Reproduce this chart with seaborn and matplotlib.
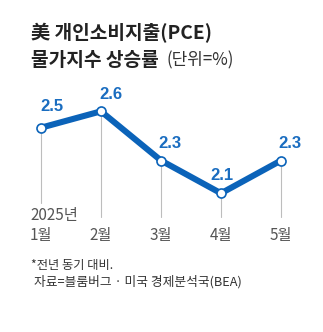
import matplotlib
matplotlib.use("Agg")
import matplotlib.pyplot as plt
import seaborn as sns
import pandas as pd

# PCE price index, year-over-year change (%)
months = ["1월", "2월", "3월", "4월", "5월"]
values = [2.5, 2.6, 2.3, 2.1, 2.3]
year_label = "2025년"

title_line1 = "美 개인소비지출(PCE)"
title_line2 = "물가지수 상승률"
unit_label = "(단위=%)"
note_line1 = "*전년 동기 대비."
note_line2 = "자료=블룸버그 · 미국 경제분석국(BEA)"

BLUE = "#0b63b9"
LABEL_BLUE = "#1a6dc0"

sns.set_style("white")
plt.rcParams["font.family"] = ["Liberation Sans", "Noto Sans CJK KR", "DejaVu Sans"]

df = pd.DataFrame({"x": range(len(months)), "month": months, "value": values})

fig = plt.figure(figsize=(3.23, 3.32), dpi=100)
ax = fig.add_axes([0, 0, 1, 1])
ax.set_xlim(-0.6833, 4.7)
ax.set_ylim(1.2543, 3.2787)
ax.axis("off")

# thin drop lines from each point to the baseline
base = 1.9555
for i, v in enumerate(values):
    bottom = 2.041 if i == 0 else base
    ax.plot([i, i], [bottom, v], color="#bdbdbd", lw=0.8, zorder=1)

sns.lineplot(data=df, x="x", y="value", ax=ax, color=BLUE, lw=4.4,
             marker="o", markersize=6.5, markerfacecolor="white",
             markeredgecolor=BLUE, markeredgewidth=1.2, zorder=3)

# value labels
offsets = [(8, 15), (7, 12), (6.5, 12.5), (0.5, 12.5), (6.5, 12.5)]
for i, v in enumerate(values):
    dx, dy = offsets[i]
    ax.annotate(f"{v:.1f}", (i, v), xytext=(dx, dy), textcoords="offset points",
                ha="center", va="center", fontsize=12, fontweight="bold",
                color=LABEL_BLUE, zorder=4)

# month labels
label_font = ["Liberation Sans Narrow", "Noto Sans CJK KR"]
for i, m in enumerate(months):
    ax.annotate(m, (i, base), xytext=(0, -13), textcoords="offset points",
                ha="center", va="center", fontsize=11, color="#555555",
                family=label_font)
ax.annotate(year_label, (0, base), xytext=(-7.5, 1), textcoords="offset points",
            ha="left", va="center", fontsize=11, color="#555555",
            family=label_font)

# title
kr_font = ["Noto Sans CJK KR", "DejaVu Sans"]
fig.text(31 / 323, 1 - 33 / 332, title_line1, ha="left", va="center",
         fontsize=13.8, fontweight="bold", color="#222222", family=kr_font)
fig.text(31 / 323, 1 - 60 / 332, title_line2, ha="left", va="center",
         fontsize=13.8, fontweight="bold", color="#222222", family=kr_font)
fig.text(166 / 323, 1 - 60 / 332, unit_label, ha="left", va="center",
         fontsize=12.2, color="#333333", family=kr_font)

# notes
fig.text(31 / 323, 1 - 265 / 332, note_line1, ha="left", va="center",
         fontsize=8.8, color="#333333", family=kr_font)
fig.text(34 / 323, 1 - 282 / 332, note_line2, ha="left", va="center",
         fontsize=9.2, color="#333333", family=kr_font)

fig.savefig("out.png", dpi=100, facecolor="white")
